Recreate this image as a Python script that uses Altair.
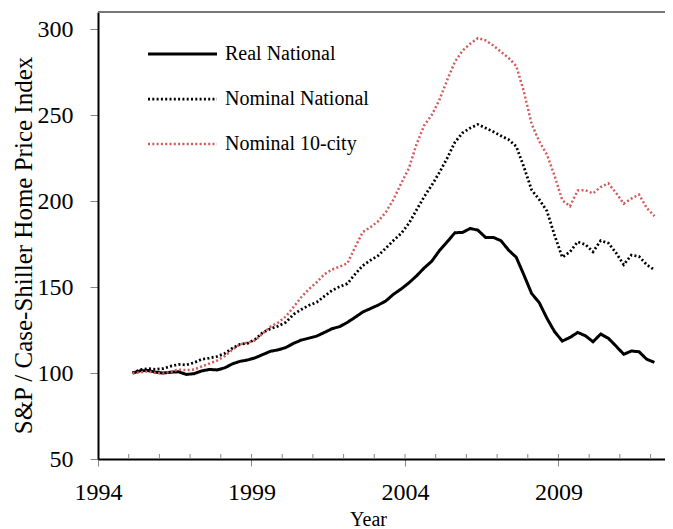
import altair as alt
import pandas as pd

# ---- data (quarterly, 1995Q1 .. 2012Q1) ----
years = list(range(1995, 2013))
quarter_pos = [0.125, 0.375, 0.625, 0.875]

real_national = [
    100.0, 101.3, 101.5, 100.5,
    100.0, 100.5, 100.7, 99.2,
    99.6, 101.2, 102.1, 101.8,
    103.0, 105.3, 106.8, 107.6,
    108.9, 110.8, 112.7, 113.5,
    114.9, 117.3, 119.2, 120.3,
    121.5, 123.6, 125.8, 127.0,
    129.5, 132.4, 135.5, 137.5,
    139.5, 141.9, 145.8, 148.9,
    152.4, 156.5, 161.1, 165.1,
    171.3, 176.3, 181.6, 181.8,
    184.1, 183.1, 178.9, 178.9,
    177.0, 171.5, 167.3, 157.0,
    146.3, 140.9, 131.8, 124.0,
    118.6, 120.7, 123.6, 121.7,
    118.2, 122.7, 120.2, 115.7,
    110.9, 112.8, 112.4, 108.0,
    106.2,
]
nominal_national = [
    100.0, 101.9, 102.6, 102.1,
    102.6, 104.0, 105.0, 104.7,
    106.0, 108.0, 108.7, 109.6,
    111.4, 114.4, 116.7, 117.3,
    119.7, 123.7, 125.8, 127.3,
    129.6, 134.2, 137.0, 139.4,
    141.2, 144.7, 148.0, 150.3,
    152.0, 157.5, 162.5, 165.6,
    168.3, 172.6, 177.1, 181.2,
    187.0, 194.8, 202.6, 209.3,
    216.8, 225.0, 234.2, 239.7,
    242.5, 244.6, 242.5, 240.4,
    238.0, 235.8, 231.8, 219.8,
    206.5, 200.9, 194.2, 180.0,
    167.3, 170.5, 176.3, 174.8,
    170.5, 177.0, 175.6, 169.9,
    163.0, 168.6, 167.8, 163.0,
    160.0,
]
nominal_10city = [
    100.0, 100.4, 101.0, 100.1,
    99.8, 100.8, 102.0, 101.7,
    102.0, 103.8, 105.5, 107.2,
    109.8, 113.5, 116.7, 117.7,
    119.0, 123.2, 127.0, 129.4,
    133.0, 138.5, 144.2, 148.9,
    152.8, 157.5, 160.2, 161.9,
    163.8, 173.2, 182.0, 184.8,
    188.3, 193.5, 201.0, 210.3,
    219.0, 233.0, 244.0, 250.2,
    259.0, 270.4, 281.0, 287.5,
    291.5, 294.8, 293.5, 290.5,
    286.9, 283.3, 278.6, 263.5,
    244.9, 234.7, 227.0, 214.6,
    200.5, 197.0, 206.2, 206.3,
    204.5, 208.2, 210.3, 204.8,
    198.5, 201.5, 203.8, 196.0,
    191.3,
]

series_names = ["Real National", "Nominal National", "Nominal 10-city"]
x_major_ticks = [1994, 1999, 2004, 2009]
x_minor_ticks = list(range(1995, 2013))
y_ticks = [50, 100, 150, 200, 250, 300]

# time index for each quarter
times = [y + q for y in years for q in quarter_pos][: len(real_national)]

rows = []
for name, vals in zip(series_names, [real_national, nominal_national, nominal_10city]):
    for t, v in zip(times, vals):
        rows.append({"t": t, "value": v, "series": name})
df = pd.DataFrame(rows)
legend_df = pd.DataFrame({"series": series_names})
minor_df = pd.DataFrame({"t": x_minor_ticks})

# ---- layout / style ----
W, H = 567, 447
FONT = "Liberation Serif"
RED = "#d35b5b"

color_scale = alt.Scale(domain=series_names, range=["#000000", "#000000", RED])
dash_scale = alt.Scale(domain=series_names, range=[[1, 0], [2, 2.3], [2, 2.3]])
width_scale = alt.Scale(domain=series_names, range=[3, 2.5, 2.5])
x_scale = alt.Scale(domain=[1994, 2012.47], nice=False, zero=False)
y_scale = alt.Scale(domain=[50, 310], nice=False, zero=False)

x_axis = alt.Axis(
    values=x_major_ticks,
    format="d",
    title="Year",
    grid=False,
    domainColor="black",
    domainWidth=2,
    tickColor="#888888",
    tickWidth=1,
    tickSize=7,
    labelFont=FONT,
    labelFontSize=24,
    labelColor="black",
    labelPadding=14,
    labelFlush=False,
    titleFont=FONT,
    titleFontSize=20,
    titleFontWeight="normal",
    titleColor="black",
    titleX=270,
    titleY=66,
    titleAlign="center",
    titleBaseline="alphabetic",
)

lines = alt.Chart(df).mark_line(clip=True).encode(
    x=alt.X("t:Q", scale=x_scale, axis=x_axis),
    y=alt.Y(
        "value:Q",
        scale=y_scale,
        axis=alt.Axis(
            values=y_ticks,
            title="S&P / Case-Shiller Home Price Index",
            grid=False,
            domainColor="black",
            domainWidth=2,
            tickColor="#888888",
            tickWidth=1,
            tickSize=8,
            labelFont=FONT,
            labelFontSize=24,
            labelColor="black",
            labelPadding=17,
            labelFlush=False,
            titleFont=FONT,
            titleFontSize=25,
            titleFontWeight="normal",
            titleColor="black",
            titleAngle=270,
            titleX=-67,
            titleY=233,
            titleAlign="center",
            titleBaseline="alphabetic",
        ),
    ),
    color=alt.Color("series:N", scale=color_scale, legend=None),
    strokeDash=alt.StrokeDash("series:N", scale=dash_scale, legend=None),
    strokeWidth=alt.StrokeWidth("series:N", scale=width_scale, legend=None),
)

minor_ticks = alt.Chart(minor_df).mark_rule(color="#888888", strokeWidth=1).encode(
    x=alt.X("t:Q", scale=x_scale, axis=x_axis),
    y=alt.value(H - 5),
    y2=alt.value(H),
)

frame_top = alt.Chart(pd.DataFrame({"a": [0]})).mark_rule(color="#777777", strokeWidth=2).encode(
    x=alt.value(0), x2=alt.value(W), y=alt.value(0)
)

leg_y = alt.Y(
    "series:N",
    scale=alt.Scale(type="point", domain=series_names, range=[42, 132], padding=0),
    axis=None,
)
legend_lines = alt.Chart(legend_df).mark_rule().encode(
    x=alt.value(50),
    x2=alt.value(119),
    y=leg_y,
    color=alt.Color("series:N", scale=color_scale, legend=None),
    strokeDash=alt.StrokeDash("series:N", scale=dash_scale, legend=None),
    strokeWidth=alt.StrokeWidth("series:N", scale=width_scale, legend=None),
)
legend_text = alt.Chart(legend_df).mark_text(
    align="left", baseline="middle", font=FONT, fontSize=20, color="black"
).encode(x=alt.value(127), y=leg_y, text="series:N")

chart = (
    alt.layer(lines, minor_ticks, frame_top, legend_lines, legend_text)
    .resolve_scale(y="independent")
    .properties(
        width=W,
        height=H,
        padding={"left": 90, "top": 4, "right": 0, "bottom": 71},
        autosize=alt.AutoSizeParams(type="none"),
        background="white",
    )
    .configure_view(stroke=None)
)

chart.save("out.html", embed_options={"renderer": "svg", "actions": False})
